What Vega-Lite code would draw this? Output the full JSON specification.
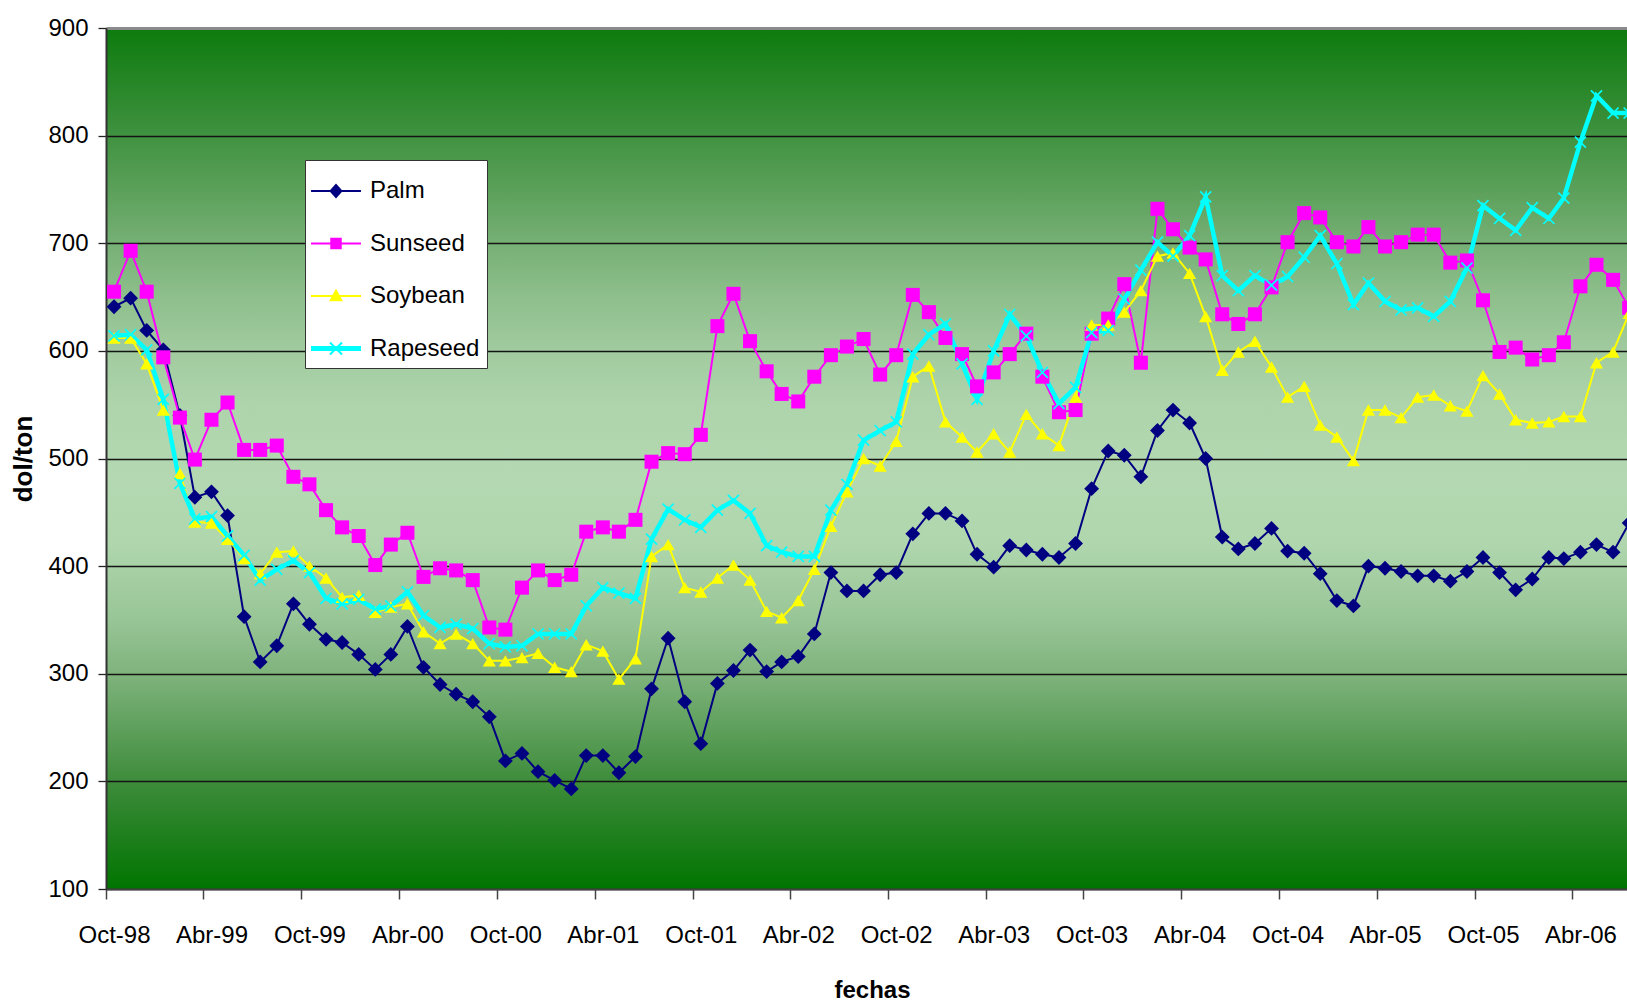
{
  "$schema": "https://vega.github.io/schema/vega-lite/v6.json",
  "width": 1521,
  "height": 861,
  "autosize": {"type": "none"},
  "padding": {"left": 106, "top": 28, "right": 0, "bottom": 114},
  "background": "white",
  "config": {
    "view": {
      "stroke": null,
      "fill": {
        "gradient": "linear",
        "x1": 0, "y1": 0, "x2": 0, "y2": 1,
        "stops": [
          {"offset": 0, "color": "#0d7b0d"},
          {"offset": 0.0625, "color": "#268626"},
          {"offset": 0.125, "color": "#409240"},
          {"offset": 0.1875, "color": "#5ba05a"},
          {"offset": 0.25, "color": "#76b075"},
          {"offset": 0.3125, "color": "#8ebf8c"},
          {"offset": 0.375, "color": "#a1cb9f"},
          {"offset": 0.4375, "color": "#aed4ac"},
          {"offset": 0.525, "color": "#b4d9b2"},
          {"offset": 0.6, "color": "#afd6ad"},
          {"offset": 0.6875, "color": "#98c596"},
          {"offset": 0.75, "color": "#7fb37c"},
          {"offset": 0.8125, "color": "#5fa05c"},
          {"offset": 0.875, "color": "#3e8c3b"},
          {"offset": 0.9375, "color": "#1f7f1e"},
          {"offset": 1, "color": "#007500"}
        ]
      }
    },
    "font": "Liberation Sans, Arial, sans-serif"
  },
  "data": {
    "values": [
      {"fecha": "1998-10-01", "Palm": 641, "Sunseed": 655, "Soybean": 612, "Rapeseed": 614},
      {"fecha": "1998-11-01", "Palm": 649, "Sunseed": 693, "Soybean": 612, "Rapeseed": 615},
      {"fecha": "1998-12-01", "Palm": 619, "Sunseed": 655, "Soybean": 588, "Rapeseed": 601},
      {"fecha": "1999-01-01", "Palm": 601, "Sunseed": 594, "Soybean": 545, "Rapeseed": 555},
      {"fecha": "1999-02-01", "Palm": 540, "Sunseed": 538, "Soybean": 486, "Rapeseed": 477},
      {"fecha": "1999-03-01", "Palm": 464, "Sunseed": 499, "Soybean": 441, "Rapeseed": 444},
      {"fecha": "1999-04-01", "Palm": 469, "Sunseed": 536, "Soybean": 440, "Rapeseed": 446},
      {"fecha": "1999-05-01", "Palm": 447, "Sunseed": 552, "Soybean": 425, "Rapeseed": 428},
      {"fecha": "1999-06-01", "Palm": 353, "Sunseed": 508, "Soybean": 407, "Rapeseed": 410},
      {"fecha": "1999-07-01", "Palm": 311, "Sunseed": 508, "Soybean": 393, "Rapeseed": 387},
      {"fecha": "1999-08-01", "Palm": 326, "Sunseed": 512, "Soybean": 413, "Rapeseed": 397},
      {"fecha": "1999-09-01", "Palm": 365, "Sunseed": 483, "Soybean": 414, "Rapeseed": 405},
      {"fecha": "1999-10-01", "Palm": 346, "Sunseed": 476, "Soybean": 400, "Rapeseed": 394},
      {"fecha": "1999-11-01", "Palm": 332, "Sunseed": 452, "Soybean": 389, "Rapeseed": 370},
      {"fecha": "1999-12-01", "Palm": 329, "Sunseed": 436, "Soybean": 371, "Rapeseed": 365},
      {"fecha": "2000-01-01", "Palm": 318, "Sunseed": 428, "Soybean": 373, "Rapeseed": 369},
      {"fecha": "2000-02-01", "Palm": 304, "Sunseed": 401, "Soybean": 357, "Rapeseed": 360},
      {"fecha": "2000-03-01", "Palm": 318, "Sunseed": 420, "Soybean": 362, "Rapeseed": 363},
      {"fecha": "2000-04-01", "Palm": 344, "Sunseed": 431, "Soybean": 365, "Rapeseed": 376},
      {"fecha": "2000-05-01", "Palm": 306, "Sunseed": 390, "Soybean": 339, "Rapeseed": 354},
      {"fecha": "2000-06-01", "Palm": 290, "Sunseed": 398, "Soybean": 328, "Rapeseed": 343},
      {"fecha": "2000-07-01", "Palm": 281, "Sunseed": 396, "Soybean": 337, "Rapeseed": 346},
      {"fecha": "2000-08-01", "Palm": 274, "Sunseed": 387, "Soybean": 328, "Rapeseed": 342},
      {"fecha": "2000-09-01", "Palm": 260, "Sunseed": 343, "Soybean": 312, "Rapeseed": 328},
      {"fecha": "2000-10-01", "Palm": 219, "Sunseed": 341, "Soybean": 312, "Rapeseed": 325},
      {"fecha": "2000-11-01", "Palm": 226, "Sunseed": 380, "Soybean": 315, "Rapeseed": 326},
      {"fecha": "2000-12-01", "Palm": 209, "Sunseed": 396, "Soybean": 319, "Rapeseed": 337},
      {"fecha": "2001-01-01", "Palm": 201, "Sunseed": 387, "Soybean": 306, "Rapeseed": 337},
      {"fecha": "2001-02-01", "Palm": 193, "Sunseed": 392, "Soybean": 302, "Rapeseed": 337},
      {"fecha": "2001-03-01", "Palm": 224, "Sunseed": 432, "Soybean": 327, "Rapeseed": 363},
      {"fecha": "2001-04-01", "Palm": 224, "Sunseed": 436, "Soybean": 321, "Rapeseed": 380},
      {"fecha": "2001-05-01", "Palm": 208, "Sunseed": 432, "Soybean": 295, "Rapeseed": 375},
      {"fecha": "2001-06-01", "Palm": 223, "Sunseed": 443, "Soybean": 314, "Rapeseed": 370},
      {"fecha": "2001-07-01", "Palm": 286, "Sunseed": 497, "Soybean": 409, "Rapeseed": 425},
      {"fecha": "2001-08-01", "Palm": 333, "Sunseed": 505, "Soybean": 420, "Rapeseed": 453},
      {"fecha": "2001-09-01", "Palm": 274, "Sunseed": 504, "Soybean": 380, "Rapeseed": 443},
      {"fecha": "2001-10-01", "Palm": 235, "Sunseed": 522, "Soybean": 376, "Rapeseed": 436},
      {"fecha": "2001-11-01", "Palm": 291, "Sunseed": 623, "Soybean": 389, "Rapeseed": 452},
      {"fecha": "2001-12-01", "Palm": 303, "Sunseed": 653, "Soybean": 401, "Rapeseed": 461},
      {"fecha": "2002-01-01", "Palm": 322, "Sunseed": 609, "Soybean": 387, "Rapeseed": 449},
      {"fecha": "2002-02-01", "Palm": 302, "Sunseed": 581, "Soybean": 358, "Rapeseed": 419},
      {"fecha": "2002-03-01", "Palm": 311, "Sunseed": 560, "Soybean": 352, "Rapeseed": 413},
      {"fecha": "2002-04-01", "Palm": 316, "Sunseed": 553, "Soybean": 368, "Rapeseed": 409},
      {"fecha": "2002-05-01", "Palm": 337, "Sunseed": 576, "Soybean": 397, "Rapeseed": 409},
      {"fecha": "2002-06-01", "Palm": 394, "Sunseed": 596, "Soybean": 437, "Rapeseed": 452},
      {"fecha": "2002-07-01", "Palm": 377, "Sunseed": 604, "Soybean": 469, "Rapeseed": 476},
      {"fecha": "2002-08-01", "Palm": 377, "Sunseed": 611, "Soybean": 500, "Rapeseed": 517},
      {"fecha": "2002-09-01", "Palm": 392, "Sunseed": 578, "Soybean": 493, "Rapeseed": 526},
      {"fecha": "2002-10-01", "Palm": 394, "Sunseed": 596, "Soybean": 516, "Rapeseed": 534},
      {"fecha": "2002-11-01", "Palm": 430, "Sunseed": 652, "Soybean": 576, "Rapeseed": 597},
      {"fecha": "2002-12-01", "Palm": 449, "Sunseed": 636, "Soybean": 586, "Rapeseed": 615},
      {"fecha": "2003-01-01", "Palm": 449, "Sunseed": 612, "Soybean": 534, "Rapeseed": 625},
      {"fecha": "2003-02-01", "Palm": 442, "Sunseed": 597, "Soybean": 520, "Rapeseed": 588},
      {"fecha": "2003-03-01", "Palm": 411, "Sunseed": 567, "Soybean": 506, "Rapeseed": 555},
      {"fecha": "2003-04-01", "Palm": 399, "Sunseed": 580, "Soybean": 523, "Rapeseed": 600},
      {"fecha": "2003-05-01", "Palm": 419, "Sunseed": 597, "Soybean": 506, "Rapeseed": 634},
      {"fecha": "2003-06-01", "Palm": 415, "Sunseed": 616, "Soybean": 541, "Rapeseed": 614},
      {"fecha": "2003-07-01", "Palm": 411, "Sunseed": 576, "Soybean": 523, "Rapeseed": 580},
      {"fecha": "2003-08-01", "Palm": 408, "Sunseed": 543, "Soybean": 512, "Rapeseed": 551},
      {"fecha": "2003-09-01", "Palm": 421, "Sunseed": 545, "Soybean": 557, "Rapeseed": 566},
      {"fecha": "2003-10-01", "Palm": 472, "Sunseed": 616, "Soybean": 624, "Rapeseed": 617},
      {"fecha": "2003-11-01", "Palm": 507, "Sunseed": 630, "Soybean": 624, "Rapeseed": 619},
      {"fecha": "2003-12-01", "Palm": 503, "Sunseed": 662, "Soybean": 636, "Rapeseed": 648},
      {"fecha": "2004-01-01", "Palm": 483, "Sunseed": 589, "Soybean": 656, "Rapeseed": 675},
      {"fecha": "2004-02-01", "Palm": 526, "Sunseed": 732, "Soybean": 688, "Rapeseed": 701},
      {"fecha": "2004-03-01", "Palm": 545, "Sunseed": 713, "Soybean": 691, "Rapeseed": 688},
      {"fecha": "2004-04-01", "Palm": 533, "Sunseed": 696, "Soybean": 672, "Rapeseed": 707},
      {"fecha": "2004-05-01", "Palm": 500, "Sunseed": 685, "Soybean": 632, "Rapeseed": 743},
      {"fecha": "2004-06-01", "Palm": 427, "Sunseed": 634, "Soybean": 582, "Rapeseed": 670},
      {"fecha": "2004-07-01", "Palm": 416, "Sunseed": 625, "Soybean": 599, "Rapeseed": 656},
      {"fecha": "2004-08-01", "Palm": 421, "Sunseed": 634, "Soybean": 609, "Rapeseed": 670},
      {"fecha": "2004-09-01", "Palm": 435, "Sunseed": 659, "Soybean": 585, "Rapeseed": 661},
      {"fecha": "2004-10-01", "Palm": 414, "Sunseed": 701, "Soybean": 557, "Rapeseed": 669},
      {"fecha": "2004-11-01", "Palm": 412, "Sunseed": 728, "Soybean": 567, "Rapeseed": 687},
      {"fecha": "2004-12-01", "Palm": 393, "Sunseed": 724, "Soybean": 531, "Rapeseed": 707},
      {"fecha": "2005-01-01", "Palm": 368, "Sunseed": 701, "Soybean": 520, "Rapeseed": 681},
      {"fecha": "2005-02-01", "Palm": 363, "Sunseed": 697, "Soybean": 498, "Rapeseed": 643},
      {"fecha": "2005-03-01", "Palm": 400, "Sunseed": 715, "Soybean": 545, "Rapeseed": 663},
      {"fecha": "2005-04-01", "Palm": 398, "Sunseed": 697, "Soybean": 545, "Rapeseed": 646},
      {"fecha": "2005-05-01", "Palm": 395, "Sunseed": 701, "Soybean": 538, "Rapeseed": 638},
      {"fecha": "2005-06-01", "Palm": 391, "Sunseed": 708, "Soybean": 557, "Rapeseed": 640},
      {"fecha": "2005-07-01", "Palm": 391, "Sunseed": 708, "Soybean": 559, "Rapeseed": 632},
      {"fecha": "2005-08-01", "Palm": 386, "Sunseed": 682, "Soybean": 549, "Rapeseed": 646},
      {"fecha": "2005-09-01", "Palm": 395, "Sunseed": 684, "Soybean": 544, "Rapeseed": 677},
      {"fecha": "2005-10-01", "Palm": 408, "Sunseed": 647, "Soybean": 577, "Rapeseed": 735},
      {"fecha": "2005-11-01", "Palm": 394, "Sunseed": 599, "Soybean": 560, "Rapeseed": 723},
      {"fecha": "2005-12-01", "Palm": 378, "Sunseed": 603, "Soybean": 536, "Rapeseed": 712},
      {"fecha": "2006-01-01", "Palm": 388, "Sunseed": 592, "Soybean": 533, "Rapeseed": 733},
      {"fecha": "2006-02-01", "Palm": 408, "Sunseed": 596, "Soybean": 534, "Rapeseed": 723},
      {"fecha": "2006-03-01", "Palm": 407, "Sunseed": 608, "Soybean": 539, "Rapeseed": 742},
      {"fecha": "2006-04-01", "Palm": 413, "Sunseed": 660, "Soybean": 539, "Rapeseed": 794},
      {"fecha": "2006-05-01", "Palm": 420, "Sunseed": 680, "Soybean": 589, "Rapeseed": 837},
      {"fecha": "2006-06-01", "Palm": 413, "Sunseed": 666, "Soybean": 599, "Rapeseed": 821},
      {"fecha": "2006-07-01", "Palm": 440, "Sunseed": 640, "Soybean": 635, "Rapeseed": 821}
    ]
  },
  "transform": [
    {"fold": ["Palm", "Sunseed", "Soybean", "Rapeseed"], "as": ["serie", "valor"]}
  ],
  "encoding": {
    "x": {
      "field": "fecha",
      "type": "temporal",
      "scale": {
        "type": "utc",
        "domain": [
          {"year": 1998, "month": 9, "date": 16, "utc": true},
          {"year": 2006, "month": 6, "date": 27, "utc": true}
        ]
      },
      "axis": {
        "values": [
          {"year": 1998, "month": 10, "date": 1, "utc": true},
          {"year": 1999, "month": 4, "date": 1, "utc": true},
          {"year": 1999, "month": 10, "date": 1, "utc": true},
          {"year": 2000, "month": 4, "date": 1, "utc": true},
          {"year": 2000, "month": 10, "date": 1, "utc": true},
          {"year": 2001, "month": 4, "date": 1, "utc": true},
          {"year": 2001, "month": 10, "date": 1, "utc": true},
          {"year": 2002, "month": 4, "date": 1, "utc": true},
          {"year": 2002, "month": 10, "date": 1, "utc": true},
          {"year": 2003, "month": 4, "date": 1, "utc": true},
          {"year": 2003, "month": 10, "date": 1, "utc": true},
          {"year": 2004, "month": 4, "date": 1, "utc": true},
          {"year": 2004, "month": 10, "date": 1, "utc": true},
          {"year": 2005, "month": 4, "date": 1, "utc": true},
          {"year": 2005, "month": 10, "date": 1, "utc": true},
          {"year": 2006, "month": 4, "date": 1, "utc": true}
        ],
        "labelExpr": "(utcmonth(datum.value) == 3 ? 'Abr-' : 'Oct-') + utcFormat(datum.value, '%y')",
        "tickOffset": -8.15,
        "labelOffset": 8.15,
        "grid": false,
        "domainColor": "#444444",
        "domainWidth": 2,
        "tickColor": "#444444",
        "tickWidth": 1.5,
        "tickSize": 10,
        "labelFont": "Liberation Sans, Arial, sans-serif",
        "labelFontSize": 24,
        "labelColor": "#000000",
        "labelPadding": 24,
        "labelFlush": false,
        "labelOverlap": false,
        "title": "fechas",
        "titleFont": "Liberation Sans, Arial, sans-serif",
        "titleFontSize": 24,
        "titleFontWeight": "bold",
        "titleColor": "#000000",
        "titlePadding": 31,
        "titleX": 766
      }
    },
    "y": {
      "field": "valor",
      "type": "quantitative",
      "scale": {"domain": [100, 900], "nice": false, "zero": false},
      "axis": {
        "values": [100, 200, 300, 400, 500, 600, 700, 800, 900],
        "grid": true,
        "gridColor": {"condition": {"test": "datum.value == 900", "value": "#8a8a8a"}, "value": "#141414"},
        "gridWidth": {"condition": {"test": "datum.value == 900", "value": 3}, "value": 1.3},
        "domainColor": "#333333",
        "domainWidth": 2,
        "tickColor": "#222222",
        "tickWidth": 1.3,
        "tickSize": 8,
        "labelFont": "Liberation Sans, Arial, sans-serif",
        "labelFontSize": 24,
        "labelColor": "#000000",
        "labelPadding": 10,
        "title": "dol/ton",
        "titleFont": "Liberation Sans, Arial, sans-serif",
        "titleFontSize": 26,
        "titleFontWeight": "bold",
        "titleColor": "#000000",
        "titlePadding": 11
      }
    }
  },
  "layer": [
    {
      "transform": [{"filter": "datum.serie != 'Rapeseed'"}],
      "mark": {"type": "line", "clip": true, "strokeWidth": 2},
      "encoding": {
        "color": {
          "field": "serie",
          "type": "nominal",
          "scale": {"domain": ["Palm", "Sunseed", "Soybean", "Rapeseed"], "range": ["#000080", "#FF00FF", "#FFFF00", "#00FFFF"]},
          "legend": null
        }
      }
    },
    {
      "transform": [{"filter": "datum.serie == 'Rapeseed'"}],
      "mark": {"type": "line", "clip": true, "strokeWidth": 4.5},
      "encoding": {
        "color": {
          "field": "serie",
          "type": "nominal",
          "scale": {"domain": ["Palm", "Sunseed", "Soybean", "Rapeseed"], "range": ["#000080", "#FF00FF", "#FFFF00", "#00FFFF"]},
          "legend": null
        }
      }
    },
    {
      "mark": {"type": "point", "filled": true, "opacity": 1, "clip": true},
      "encoding": {
        "color": {
          "field": "serie",
          "type": "nominal",
          "scale": {"domain": ["Palm", "Sunseed", "Soybean", "Rapeseed"], "range": ["#000080", "#FF00FF", "#FFFF00", "#00FFFF"]},
          "legend": null
        },
        "shape": {
          "field": "serie",
          "type": "nominal",
          "scale": {
            "domain": ["Palm", "Sunseed", "Soybean", "Rapeseed"],
            "range": ["diamond", "square", "triangle-up", "M-1,-0.8L-0.8,-1L1,0.8L0.8,1Z M-1,0.8L0.8,-1L1,-0.8L-0.8,1Z"]
          },
          "legend": null
        },
        "size": {
          "field": "serie",
          "type": "nominal",
          "scale": {"domain": ["Palm", "Sunseed", "Soybean", "Rapeseed"], "range": [220, 150, 230, 230]},
          "legend": null
        }
      }
    },
    {
      "transform": [{"filter": "datum.valor < 0"}],
      "mark": {"type": "point", "filled": true, "opacity": 1},
      "encoding": {
        "fill": {
          "field": "serie",
          "type": "nominal",
          "scale": {"domain": ["Palm", "Sunseed", "Soybean", "Rapeseed"], "range": ["#000080", "#FF00FF", "#FFFF00", "#00FFFF"]},
          "legend": {
            "orient": "none", "legendX": 199, "legendY": 132, "title": null,
            "symbolSize": 2304, "symbolStrokeWidth": 0,
            "labelFont": "Liberation Sans, Arial, sans-serif",
            "labelFontSize": 24, "labelColor": "#000000", "labelOffset": 10,
            "padding": 7, "rowPadding": 16.5,
            "fillColor": "#ffffff", "strokeColor": "#333333"
          }
        },
        "shape": {
          "field": "serie",
          "type": "nominal",
          "scale": {
            "domain": ["Palm", "Sunseed", "Soybean", "Rapeseed"],
            "range": [
              "M-1.04,-0.042L1.04,-0.042L1.04,0.042L-1.04,0.042Z M-0.28,0L0,-0.31L0.28,0L0,0.31Z",
              "M-1.04,-0.042L1.04,-0.042L1.04,0.042L-1.04,0.042Z M-0.24,-0.24L0.24,-0.24L0.24,0.24L-0.24,0.24Z",
              "M-1.04,-0.042L1.04,-0.042L1.04,0.042L-1.04,0.042Z M0,-0.3L0.29,0.22L-0.29,0.22Z",
              "M-1.04,-0.1L1.04,-0.1L1.04,0.1L-1.04,0.1Z M-0.28,-0.22L-0.22,-0.28L0.28,0.22L0.22,0.28Z M-0.28,0.22L0.22,-0.28L0.28,-0.22L-0.22,0.28Z"
            ]
          },
          "legend": {
            "orient": "none", "legendX": 199, "legendY": 132, "title": null,
            "symbolSize": 2304, "symbolStrokeWidth": 0,
            "labelFont": "Liberation Sans, Arial, sans-serif",
            "labelFontSize": 24, "labelColor": "#000000", "labelOffset": 10,
            "padding": 7, "rowPadding": 16.5,
            "fillColor": "#ffffff", "strokeColor": "#333333"
          }
        }
      }
    }
  ],
  "resolve": {"scale": {"shape": "independent", "fill": "independent"}}
}
